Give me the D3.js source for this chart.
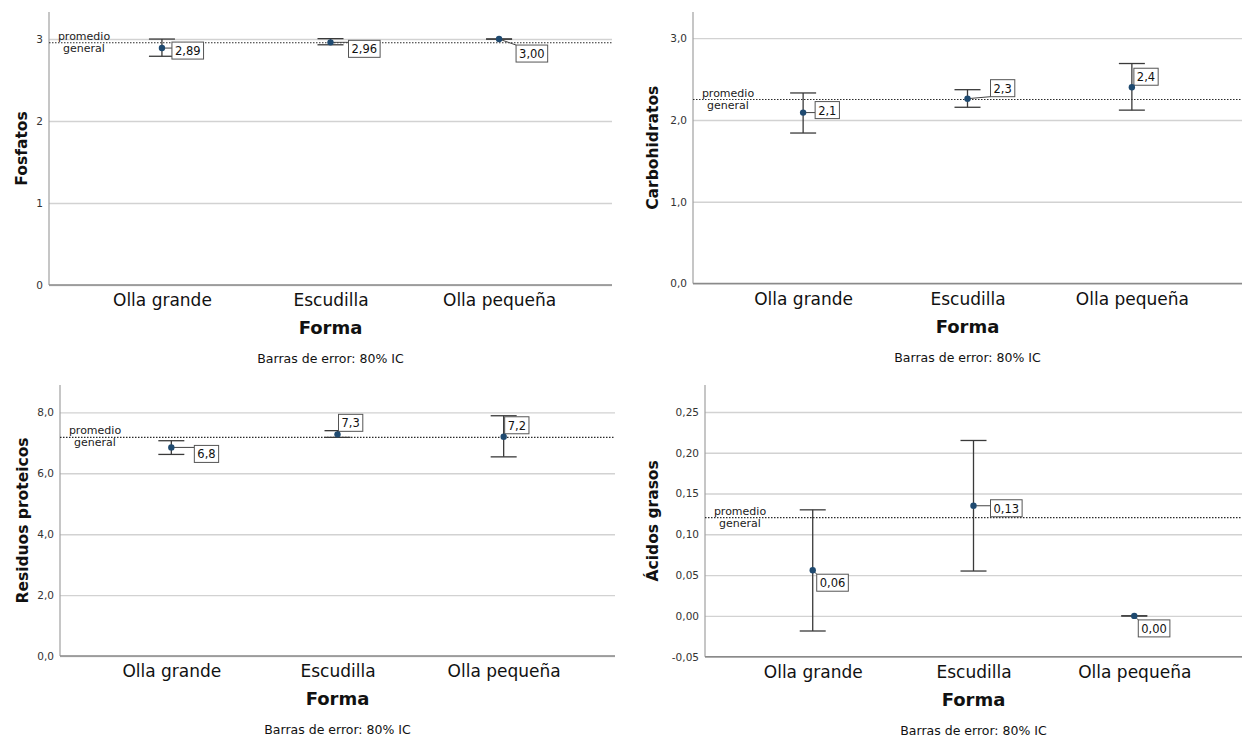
<!DOCTYPE html>
<html>
<head>
<meta charset="utf-8">
<script src="https://cdn.jsdelivr.net/npm/d3@7"></script>
<style>
  html, body { margin: 0; padding: 0; background: #ffffff; }
  svg { display: block; }
</style>
</head>
<body>
<svg id="chart" width="1242" height="740"></svg>
<script>
// ---------- DATA ----------
const categories = ["Olla grande", "Escudilla", "Olla pequeña"];
const xTitle = "Forma";
const footnote = "Barras de error: 80% IC";
const overallLabel = ["promedio", "general"];

// Fosfatos
const fosfatosMean = [2.89, 2.96, 3.00];
const fosfatosLow = [2.79, 2.93, 3.00];
const fosfatosHigh = [3.00, 3.005, 3.00];
const fosfatosValueLabels = ["2,89", "2,96", "3,00"];
const fosfatosOverall = 2.955;
const fosfatosTicks = [0, 1, 2, 3];
const fosfatosTickLabels = ["0", "1", "2", "3"];

// Carbohidratos
const carboMean = [2.09, 2.26, 2.40];
const carboLow = [1.84, 2.155, 2.12];
const carboHigh = [2.33, 2.37, 2.69];
const carboValueLabels = ["2,1", "2,3", "2,4"];
const carboOverall = 2.25;
const carboTicks = [0, 1, 2, 3];
const carboTickLabels = ["0,0", "1,0", "2,0", "3,0"];

// Residuos proteicos
const proteMean = [6.85, 7.28, 7.20];
const proteLow = [6.62, 7.18, 6.54];
const proteHigh = [7.07, 7.40, 7.89];
const proteValueLabels = ["6,8", "7,3", "7,2"];
const proteOverall = 7.18;
const proteTicks = [0, 2, 4, 6, 8];
const proteTickLabels = ["0,0", "2,0", "4,0", "6,0", "8,0"];

// Ácidos grasos
const acidMean = [0.056, 0.135, 0.00];
const acidLow = [-0.0185, 0.055, 0.00];
const acidHigh = [0.130, 0.215, 0.00];
const acidValueLabels = ["0,06", "0,13", "0,00"];
const acidOverall = 0.1205;
const acidTicks = [-0.05, 0, 0.05, 0.10, 0.15, 0.20, 0.25];
const acidTickLabels = ["-0,05", "0,00", "0,05", "0,10", "0,15", "0,20", "0,25"];

// ---------- LAYOUT / STYLE ----------
const panels = [
  { title: "Fosfatos", mean: fosfatosMean, low: fosfatosLow, high: fosfatosHigh, labels: fosfatosValueLabels,
    overall: fosfatosOverall, ticks: fosfatosTicks, tickLabels: fosfatosTickLabels,
    domain: [0, 3.33], left: 49, right: 612, top: 12, bottom: 285, titleX: 21,
    labelOffsets: [[10, -6], [18, -2], [17, 6]] },
  { title: "Carbohidratos", mean: carboMean, low: carboLow, high: carboHigh, labels: carboValueLabels,
    overall: carboOverall, ticks: carboTicks, tickLabels: carboTickLabels,
    domain: [0, 3.32], left: 693, right: 1242, top: 12, bottom: 283.5, titleX: 652,
    labelOffsets: [[12, -11], [23, -19], [2, -19]] },
  { title: "Residuos proteicos", mean: proteMean, low: proteLow, high: proteHigh, labels: proteValueLabels,
    overall: proteOverall, ticks: proteTicks, tickLabels: proteTickLabels,
    domain: [0, 8.9], left: 60, right: 615, top: 385, bottom: 656, titleX: 22,
    labelOffsets: [[23, -2], [1, -20], [1, -20]] },
  { title: "Ácidos grasos", mean: acidMean, low: acidLow, high: acidHigh, labels: acidValueLabels,
    overall: acidOverall, ticks: acidTicks, tickLabels: acidTickLabels,
    domain: [-0.05, 0.283], left: 705, right: 1242, top: 385, bottom: 656.7, titleX: 652,
    labelOffsets: [[4, 4], [17, -6], [4, 4]] }
];

const FONT = "'DejaVu Sans', 'Verdana', sans-serif";
const svg = d3.select("#chart");

function drawPanel(p) {
  const g = svg.append("g");
  const y = d3.scaleLinear().domain(p.domain).range([p.bottom, p.top]);
  const x = d3.scalePoint().domain(categories).range([p.left, p.right]).padding(0.67);
  const width = p.right - p.left;

  // gridlines
  const grid = g.append("g").attr("transform", `translate(${p.left},0)`)
    .call(d3.axisLeft(y).tickValues(p.ticks).tickSize(-width).tickFormat(""));
  grid.select(".domain").remove();
  grid.selectAll(".tick line").attr("stroke", "#d2d2d2").attr("stroke-width", 1.4);

  // y-axis labels
  const ya = g.append("g").attr("transform", `translate(${p.left},0)`)
    .call(d3.axisLeft(y).tickValues(p.ticks).tickSize(0).tickPadding(6)
      .tickFormat((d, i) => p.tickLabels[i]));
  ya.select(".domain").remove();
  ya.selectAll("text").attr("font-family", FONT).attr("font-size", 10.5).attr("fill", "#333");

  // y axis line
  g.append("line").attr("x1", p.left).attr("x2", p.left).attr("y1", p.top).attr("y2", p.bottom)
    .attr("stroke", "#a0a0a0").attr("stroke-width", 1.2);

  // x axis
  const xa = g.append("g").attr("transform", `translate(0,${y(p.domain[0])})`)
    .call(d3.axisBottom(x).tickSize(0).tickPadding(9));
  xa.select(".domain").attr("stroke", "#8a8a8a").attr("stroke-width", 1.5)
    .attr("d", `M${p.left},0H${p.right}`);
  xa.selectAll("text").attr("font-family", FONT).attr("font-size", 17).attr("fill", "#111");

  // x title & footnote
  const cx = (p.left + p.right) / 2;
  g.append("text").attr("x", cx).attr("y", p.bottom + 49).attr("text-anchor", "middle")
    .attr("font-family", FONT).attr("font-weight", "bold").attr("font-size", 18).attr("fill", "#111")
    .text(xTitle);
  g.append("text").attr("x", cx).attr("y", p.bottom + 78).attr("text-anchor", "middle")
    .attr("font-family", FONT).attr("font-size", 12.5).attr("fill", "#111")
    .text(footnote);

  // y title
  const cy = (p.top + p.bottom) / 2;
  g.append("text").attr("transform", `translate(${p.titleX + 5.5},${cy}) rotate(-90)`)
    .attr("text-anchor", "middle").attr("font-family", FONT).attr("font-weight", "bold")
    .attr("font-size", 15.5).attr("fill", "#111").text(p.title);

  // overall mean reference line
  const oy = y(p.overall);
  g.append("line").attr("x1", p.left).attr("x2", p.right).attr("y1", oy).attr("y2", oy)
    .attr("stroke", "#2a2a2a").attr("stroke-width", 1.2).attr("stroke-dasharray", "1.5,1.5");
  g.append("text").attr("x", p.left + 35).attr("y", oy - 3).attr("text-anchor", "middle")
    .attr("font-family", FONT).attr("font-size", 11).attr("fill", "#222").text(overallLabel[0]);
  g.append("text").attr("x", p.left + 35).attr("y", oy + 9).attr("text-anchor", "middle")
    .attr("font-family", FONT).attr("font-size", 11).attr("fill", "#222").text(overallLabel[1]);

  // error bars
  const capW = 13;
  categories.forEach((c, i) => {
    const xc = x(c);
    g.append("line").attr("x1", xc).attr("x2", xc).attr("y1", y(p.low[i])).attr("y2", y(p.high[i]))
      .attr("stroke", "#3a3a3a").attr("stroke-width", 1.3);
    [p.low[i], p.high[i]].forEach(v => {
      g.append("line").attr("x1", xc - capW).attr("x2", xc + capW).attr("y1", y(v)).attr("y2", y(v))
        .attr("stroke", "#3a3a3a").attr("stroke-width", 1.3);
    });
  });

  // value labels with connector
  categories.forEach((c, i) => {
    const xc = x(c), yc = y(p.mean[i]);
    const bx = xc + p.labelOffsets[i][0], by = yc + p.labelOffsets[i][1];
    const lg = g.append("g");
    const ln = lg.append("line");
    const rc = lg.append("rect");
    const t = lg.append("text").attr("font-family", FONT).attr("font-size", 11.5).attr("fill", "#111")
      .attr("x", bx + 3).attr("y", by + 13).text(p.labels[i]);
    const tw = t.node().getComputedTextLength();
    const bw = tw + 6, bh = 17;
    const nx = Math.max(bx, Math.min(xc, bx + bw));
    const ny = Math.max(by, Math.min(yc, by + bh));
    ln.attr("x1", xc).attr("y1", yc).attr("x2", nx).attr("y2", ny)
      .attr("stroke", "#444").attr("stroke-width", 1);
    rc.attr("x", bx).attr("y", by).attr("width", bw).attr("height", bh)
      .attr("fill", "#fff").attr("stroke", "#555").attr("stroke-width", 1);
  });

  // mean dots
  g.selectAll("circle.m").data(categories).enter().append("circle")
    .attr("class", "m")
    .attr("cx", d => x(d)).attr("cy", (d, i) => y(p.mean[i])).attr("r", 3.2)
    .attr("fill", "#1f4a70");
}

panels.forEach(drawPanel);
</script>
</body>
</html>
